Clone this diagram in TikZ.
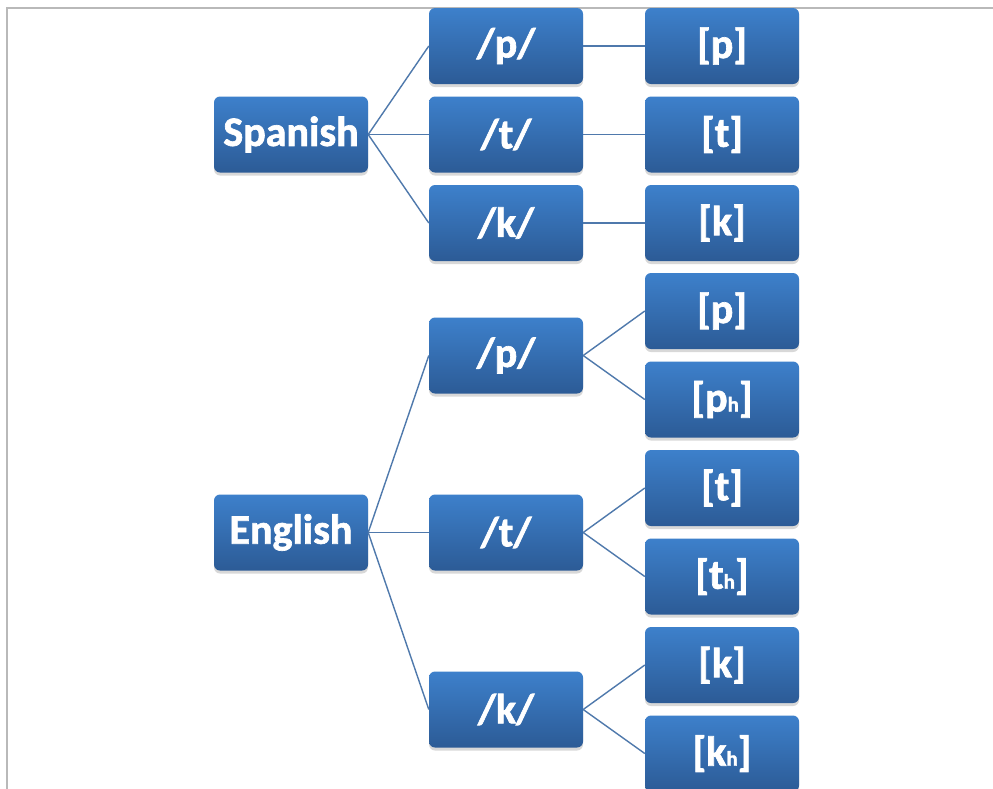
\documentclass[tikz,border=0pt]{standalone}
\usepackage{fontspec}
\setmainfont{Carlito}
\newfontface\tagface{Carlito Bold}[FakeBold=1.6]
\usetikzlibrary{shadows}
\definecolor{boxtop}{RGB}{61,128,203}
\definecolor{boxbot}{RGB}{44,91,150}
\definecolor{linkblue}{RGB}{79,121,172}
\definecolor{framegray}{RGB}{185,185,185}
\tikzset{
  tag/.style={rectangle, rounded corners=6pt, minimum width=154pt, minimum height=76pt,
    inner sep=0pt, top color=boxtop, bottom color=boxbot, text=white,
    font=\fontsize{42}{42}\tagface,
    drop shadow={opacity=0.3, shadow xshift=0pt, shadow yshift=-3pt}},
  link/.style={draw=linkblue, line width=1.4pt}
}
% small aspiration mark set on the baseline
\newcommand{\asp}[1]{{\fontsize{21}{21}\selectfont #1}}
\begin{document}
\begin{tikzpicture}[x=1pt, y=-1pt]
  \useasboundingbox (0,0) rectangle (993,788);
  \clip (0,0) rectangle (993,788);
  \fill[white] (0,0) rectangle (993,788);
  \draw[framegray, line width=2pt] (7,800) -- (7,8) -- (1000,8);

  % Spanish
  \node[tag] (sp)  at (291,134.5) {Spanish};
  \node[tag] (spp) at (506,46)    {/p/};
  \node[tag] (spt) at (506,134.5) {/t/};
  \node[tag] (spk) at (506,223)   {/k/};
  \node[tag] (spp1) at (722,46)    {[p]};
  \node[tag] (spt1) at (722,134.5) {[t]};
  \node[tag] (spk1) at (722,223)   {[k]};

  % English
  \node[tag] (en)  at (291,532.5) {English};
  \node[tag] (enp) at (506,355.5) {/p/};
  \node[tag] (ent) at (506,532.5) {/t/};
  \node[tag] (enk) at (506,709.5) {/k/};
  \node[tag] (enp1) at (722,311)   {[p]};
  \node[tag] (enp2) at (722,399.5) {[p\asp{h}]};
  \node[tag] (ent1) at (722,488)   {[t]};
  \node[tag] (ent2) at (722,576.5) {[t\asp{h}]};
  \node[tag] (enk1) at (722,665)   {[k]};
  \node[tag] (enk2) at (722,753.5) {[k\asp{h}]};

  % connectors
  \foreach \a/\b in {sp/spp, sp/spt, sp/spk, spp/spp1, spt/spt1, spk/spk1,
                     en/enp, en/ent, en/enk, enp/enp1, enp/enp2,
                     ent/ent1, ent/ent2, enk/enk1, enk/enk2}
    \draw[link] (\a.east) -- (\b.west);
\end{tikzpicture}
\end{document}
